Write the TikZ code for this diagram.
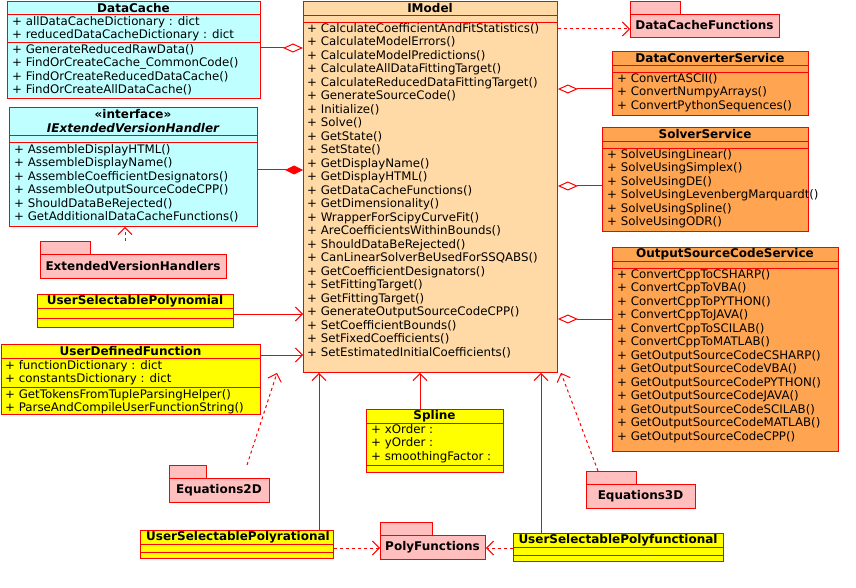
\documentclass[tikz,border=0pt]{standalone}
\usepackage{fontspec}
\setmainfont{DejaVu Sans}
\usetikzlibrary{arrows.meta}
\definecolor{cyanc}{HTML}{BFFFFF}
\definecolor{imc}{HTML}{FFDAA6}
\definecolor{orc}{HTML}{FFA552}
\definecolor{yelc}{HTML}{FFFF00}
\definecolor{pkc}{HTML}{FFBFBF}
\definecolor{lnc}{HTML}{FF0000}
\tikzset{
  box/.style={draw=lnc, line width=0.9pt, anchor=north west, inner sep=0pt},
  sep/.style={draw=lnc, line width=0.9pt},
  hdr/.style={font=\fontsize{12}{13.5}\selectfont\bfseries, inner sep=0pt, align=center},
  txt/.style={font=\fontsize{11.8}{13.5}\selectfont, inner sep=0pt, anchor=north west, align=left},
  conn/.style={draw=lnc, line width=1pt},
  dep/.style={conn, dashed, -{Straight Barb[length=7pt,width=14pt]}},
  gen/.style={conn, -{Straight Barb[length=7pt,width=14pt]}},
  agg/.style={conn, {Diamond[open,fill=white,length=20pt,width=9pt]}-},
  comp/.style={conn, {Diamond[fill=lnc,length=18pt,width=9pt]}-},
}
\newcommand\pkg[6]{% name, x1, tabright, y1(tab top), x2, y2
  \draw[sep, fill=pkc] (#2,#4) rectangle (#3,#4+13);
  \node[box, fill=pkc, minimum width={(#5-#2)*1pt}, minimum height={(#6-#4-13)*1pt}] (#1) at (#2,#4+13) {};
}
\begin{document}
\begin{tikzpicture}[x=1pt,y=-1pt]
\useasboundingbox (0,0) rectangle (856,588);
% DataCache
\node[box, fill=cyanc, minimum width=253pt, minimum height=97pt] (dc) at (7,1) {};
\draw[sep] (7,14)--(260,14) (7,42)--(260,42);
\node[hdr] at (133.5,8) {DataCache};
\node[txt] at (12,16) {+ allDataCacheDictionary : dict\\+ reducedDataCacheDictionary : dict};
\node[txt] at (12,44) {+ GenerateReducedRawData()\\+ FindOrCreateCache\_CommonCode()\\+ FindOrCreateReducedDataCache()\\+ FindOrCreateAllDataCache()};
% IExtendedVersionHandler
\node[box, fill=cyanc, minimum width=248pt, minimum height=119pt] (iev) at (9,107) {};
\draw[sep] (9,135)--(257,135) (9,142)--(257,142);
\node[hdr] at (133,121) {«interface»\\\itshape IExtendedVersionHandler};
\node[txt] at (14,144) {+ AssembleDisplayHTML()\\+ AssembleDisplayName()\\+ AssembleCoefficientDesignators()\\+ AssembleOutputSourceCodeCPP()\\+ ShouldDataBeRejected()\\+ GetAdditionalDataCacheFunctions()};
% ExtendedVersionHandlers
\pkg{evh}{40}{90}{241}{226}{278}
\node[hdr] at (133,266) {ExtendedVersionHandlers};
% UserSelectablePolynomial
\node[box, fill=yelc, minimum width=196pt, minimum height=33pt] (usp) at (37,294) {};
\draw[sep] (37,308)--(233,308) (37,318)--(233,318);
\node[hdr] at (135,301) {UserSelectablePolynomial};
% UserDefinedFunction
\node[box, fill=yelc, minimum width=259pt, minimum height=70pt] (udf) at (1,344) {};
\draw[sep] (1,358)--(260,358) (1,387)--(260,387);
\node[hdr] at (130.5,351) {UserDefinedFunction};
\node[txt] at (5,360) {+ functionDictionary : dict\\+ constantsDictionary : dict};
\node[txt] at (5,389) {+ GetTokensFromTupleParsingHelper()\\+ ParseAndCompileUserFunctionString()};
% IModel
\node[box, fill=imc, minimum width=254pt, minimum height=371pt] (im) at (303,1) {};
\draw[sep] (303,15)--(557,15) (303,22)--(557,22);
\node[hdr] at (430,8) {IModel};
\node[txt] at (307,23) {+ CalculateCoefficientAndFitStatistics()\\+ CalculateModelErrors()\\+ CalculateModelPredictions()\\+ CalculateAllDataFittingTarget()\\+ CalculateReducedDataFittingTarget()\\+ GenerateSourceCode()\\+ Initialize()\\+ Solve()\\+ GetState()\\+ SetState()\\+ GetDisplayName()\\+ GetDisplayHTML()\\+ GetDataCacheFunctions()\\+ GetDimensionality()\\+ WrapperForScipyCurveFit()\\+ AreCoefficientsWithinBounds()\\+ ShouldDataBeRejected()\\+ CanLinearSolverBeUsedForSSQABS()\\+ GetCoefficientDesignators()\\+ SetFittingTarget()\\+ GetFittingTarget()\\+ GenerateOutputSourceCodeCPP()\\+ SetCoefficientBounds()\\+ SetFixedCoefficients()\\+ SetEstimatedInitialCoefficients()};
% DataCacheFunctions
\pkg{dcf}{630}{680}{1}{779}{37}
\node[hdr] at (704.5,25.5) {DataCacheFunctions};
% DataConverterService
\node[box, fill=orc, minimum width=196pt, minimum height=64pt] (dcs) at (612,51) {};
\draw[sep] (612,65)--(808,65) (612,72)--(808,72);
\node[hdr] at (710,58) {DataConverterService};
\node[txt] at (617,73) {+ ConvertASCII()\\+ ConvertNumpyArrays()\\+ ConvertPythonSequences()};
% SolverService
\node[box, fill=orc, minimum width=206pt, minimum height=104pt] (ss) at (602,127) {};
\draw[sep] (602,141)--(808,141) (602,148)--(808,148);
\node[hdr] at (705,134) {SolverService};
\node[txt] at (607,149) {+ SolveUsingLinear()\\+ SolveUsingSimplex()\\+ SolveUsingDE()\\+ SolveUsingLevenbergMarquardt()\\+ SolveUsingSpline()\\+ SolveUsingODR()};
% OutputSourceCodeService
\node[box, fill=orc, minimum width=226pt, minimum height=204pt] (oscs) at (612,247) {};
\draw[sep] (612,261)--(838,261) (612,268)--(838,268);
\node[hdr] at (725,254) {OutputSourceCodeService};
\node[txt] at (617,269) {+ ConvertCppToCSHARP()\\+ ConvertCppToVBA()\\+ ConvertCppToPYTHON()\\+ ConvertCppToJAVA()\\+ ConvertCppToSCILAB()\\+ ConvertCppToMATLAB()\\+ GetOutputSourceCodeCSHARP()\\+ GetOutputSourceCodeVBA()\\+ GetOutputSourceCodePYTHON()\\+ GetOutputSourceCodeJAVA()\\+ GetOutputSourceCodeSCILAB()\\+ GetOutputSourceCodeMATLAB()\\+ GetOutputSourceCodeCPP()};
% Spline
\node[box, fill=yelc, minimum width=137pt, minimum height=63pt] (sp) at (366,409) {};
\draw[sep] (366,423)--(503,423) (366,465)--(503,465);
\node[hdr] at (434.5,416) {Spline};
\node[txt] at (371,424) {+ xOrder :\\+ yOrder :\\+ smoothingFactor :};
% Equations2D / 3D
\pkg{e2}{169}{206}{465}{269}{502}
\node[hdr] at (219,490) {Equations2D};
\pkg{e3}{586}{636}{471}{695}{508}
\node[hdr] at (640.5,496) {Equations3D};
% UserSelectablePolyrational
\node[box, fill=yelc, minimum width=193pt, minimum height=28pt] (usr) at (140,530) {};
\draw[sep] (140,544)--(333,544) (140,552)--(333,552);
\node[hdr] at (238,537) {UserSelectablePolyrational};
% PolyFunctions
\pkg{pf}{380}{432}{522}{485}{559}
\node[hdr] at (432.5,547.5) {PolyFunctions};
% UserSelectablePolyfunctional
\node[box, fill=yelc, minimum width=210pt, minimum height=28pt] (usf) at (513,533) {};
\draw[sep] (513,547)--(723,547) (513,555)--(723,555);
\node[hdr] at (618,540) {UserSelectablePolyfunctional};
% connectors
\draw[agg] (im.west |- 0,48) -- (dc.east |- 0,48);
\draw[comp] (im.west |- 0,170) -- (iev.east |- 0,170);
\draw[dep] (evh.north -| 125,0) ++(0,-13) -- (iev.south -| 125,0);
\draw[dep] (im.east |- 0,29) -- (dcf.west |- 0,29);
\draw[agg] (im.east |- 0,89) -- (dcs.west |- 0,89);
\draw[agg] (im.east |- 0,186) -- (ss.west |- 0,186);
\draw[agg] (im.east |- 0,319) -- (oscs.west |- 0,319);
\draw[gen] (usp.east |- 0,314) -- (im.west |- 0,314);
\draw[gen] (udf.east |- 0,355) -- (im.west |- 0,355);
\coordinate (e2t) at (247,465);
\draw[dep] (e2t) -- (im.south -| 277,0);
\draw[gen] (usr.north -| 319,0) -- (im.south -| 319,0);
\draw[gen] (sp.north -| 420,0) -- (im.south -| 420,0);
\draw[gen] (usf.north -| 541,0) -- (im.south -| 541,0);
\coordinate (e3t) at (598,471);
\draw[dep] (e3t) -- (im.south -| 561,0);
\draw[dep] (usr.east |- 0,548) -- (pf.west |- 0,548);
\draw[dep] (usf.west |- 0,548) -- (pf.east |- 0,548);
\end{tikzpicture}
\end{document}
